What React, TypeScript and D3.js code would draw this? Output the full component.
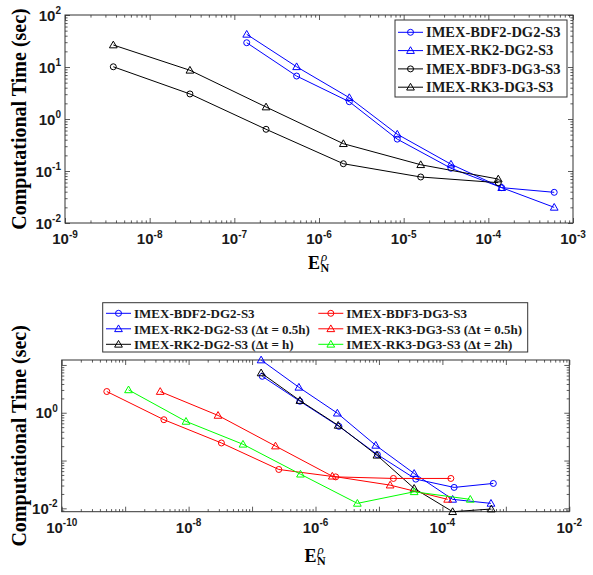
import { useEffect, useRef } from 'react'
import * as d3 from 'd3'

// --- upper figure: error vs. CPU time ---
const topErrDG2 = [1.40e-7, 5.44e-7, 2.28e-6, 8.4e-6, 3.62e-5, 1.44e-4, 6.0e-4]
const topTimeBDF2 = [29.3, 6.7, 2.15, 0.41, 0.113, 0.0478, 0.0389]
const topTimeRK2 = [42.5, 10.1, 2.57, 0.51, 0.135, 0.0478, 0.020]
const topErrDG3 = [3.72e-9, 2.99e-8, 2.37e-7, 1.94e-6, 1.59e-5, 1.31e-4]
const topTimeBDF3 = [10.1, 3.03, 0.634, 0.138, 0.0767, 0.0596]
const topTimeRK3 = [26.5, 8.65, 1.70, 0.335, 0.132, 0.070]

// --- lower figure: time step comparison ---
const botErrBDF2 = [1.45e-7, 5.68e-7, 2.34e-6, 9.46e-6, 3.81e-5, 1.53e-4, 6.35e-4]
const botTimeBDF2 = [5.79, 1.74, 0.519, 0.133, 0.0408, 0.0274, 0.0332]
const botErrRK2Half = [1.39e-7, 5.47e-7, 2.21e-6, 8.9e-6, 3.59e-5, 1.45e-4, 5.83e-4]
const botTimeRK2Half = [12.7, 3.41, 0.98, 0.208, 0.0536, 0.0154, 0.0127]
const botErrRK2Full = [1.39e-7, 5.68e-7, 2.28e-6, 9.3e-6, 3.59e-5, 1.45e-4, 5.9e-4]
const botTimeRK2Full = [6.81, 1.80, 0.544, 0.129, 0.0261, 0.0085, 0.00967]
const botErrBDF3 = [5.14e-10, 4.08e-9, 3.29e-8, 2.64e-7, 2.08e-6, 1.69e-5, 1.36e-4]
const botTimeBDF3 = [2.78, 0.715, 0.233, 0.065, 0.0455, 0.0422, 0.0422]
const botErrRK3Half = [3.57e-9, 2.91e-8, 2.34e-7, 1.84e-6, 1.50e-5, 1.21e-4]
const botTimeRK3Half = [2.78, 0.879, 0.201, 0.047, 0.0306, 0.0154]
const botErrRK3Double = [1.13e-9, 9.1e-9, 7.2e-8, 5.8e-7, 4.57e-6, 3.59e-5, 2.75e-4]
const botTimeRK3Double = [3.01, 0.659, 0.219, 0.0518, 0.0127, 0.0222, 0.0154]

// tick labels (exponents of 10)
const topXLabelExps = [-9, -8, -7, -6, -5, -4, -3]
const topYLabelExps = [-2, -1, 0, 1, 2]
const botXLabelExps = [-10, -8, -6, -4, -2]
const botYLabelExps = [-2, 0]

type Marker = 'circle' | 'triangle'
interface Series {
  name: string
  err: number[]
  time: number[]
  color: string
  marker: Marker
}

const BLUE = '#0000ff'
const BLACK = '#000000'
const RED = '#ff0000'
const GREEN = '#00ff00'

const topSeries: Series[] = [
  { name: 'IMEX-BDF2-DG2-S3', err: topErrDG2, time: topTimeBDF2, color: BLUE, marker: 'circle' },
  { name: 'IMEX-RK2-DG2-S3', err: topErrDG2, time: topTimeRK2, color: BLUE, marker: 'triangle' },
  { name: 'IMEX-BDF3-DG3-S3', err: topErrDG3, time: topTimeBDF3, color: BLACK, marker: 'circle' },
  { name: 'IMEX-RK3-DG3-S3', err: topErrDG3, time: topTimeRK3, color: BLACK, marker: 'triangle' },
]

const bottomSeries: Series[] = [
  { name: 'IMEX-BDF2-DG2-S3', err: botErrBDF2, time: botTimeBDF2, color: BLUE, marker: 'circle' },
  { name: 'IMEX-RK2-DG2-S3 (Δt = 0.5h)', err: botErrRK2Half, time: botTimeRK2Half, color: BLUE, marker: 'triangle' },
  { name: 'IMEX-RK2-DG2-S3 (Δt = h)', err: botErrRK2Full, time: botTimeRK2Full, color: BLACK, marker: 'triangle' },
  { name: 'IMEX-BDF3-DG3-S3', err: botErrBDF3, time: botTimeBDF3, color: RED, marker: 'circle' },
  { name: 'IMEX-RK3-DG3-S3 (Δt = 0.5h)', err: botErrRK3Half, time: botTimeRK3Half, color: RED, marker: 'triangle' },
  { name: 'IMEX-RK3-DG3-S3 (Δt = 2h)', err: botErrRK3Double, time: botTimeRK3Double, color: GREEN, marker: 'triangle' },
]

const SANS = 'Liberation Sans, Arial, Helvetica, sans-serif'
const SERIF = 'Liberation Serif, Times New Roman, serif'
const AXIS_COLOR = '#333333'

interface Legend {
  x: number
  y: number
  width: number
  height: number
  fontSize: number
  rowGap: number
  firstRow: number
  columns: number[] // x offsets of each column
  order: number[][] // series index per column
}

interface Panel {
  series: Series[]
  xDomain: [number, number]
  yDomain: [number, number]
  xLabelExps: number[]
  yLabelExps: number[]
  left: number
  right: number
  top: number
  bottom: number
  xTitleY: number
  legend: Legend
}

const panels: Panel[] = [
  {
    series: topSeries,
    xDomain: [1e-9, 1e-3],
    yDomain: [1e-2, 1e2],
    xLabelExps: topXLabelExps,
    yLabelExps: topYLabelExps,
    left: 65, right: 573, top: 15, bottom: 223,
    xTitleY: 269,
    legend: {
      x: 395, y: 20, width: 172, height: 77, fontSize: 14.5, rowGap: 18.3, firstRow: 12.3,
      columns: [3], order: [[0, 1, 2, 3]],
    },
  },
  {
    series: bottomSeries,
    xDomain: [1e-10, 1e-2],
    yDomain: [0.0085, 12.7],
    xLabelExps: botXLabelExps,
    yLabelExps: botYLabelExps,
    left: 61.7, right: 569.3, top: 360, bottom: 511.7,
    xTitleY: 561.7,
    legend: {
      x: 102.7, y: 302.7, width: 425, height: 49.3, fontSize: 13, rowGap: 15.5, firstRow: 10.6,
      columns: [3.3, 215.6], order: [[0, 1, 2], [3, 4, 5]],
    },
  },
]

function drawMarker(g: d3.Selection<SVGGElement, unknown, null, undefined>, m: Marker, x: number, y: number, color: string) {
  if (m === 'circle') {
    g.append('circle').attr('cx', x).attr('cy', y).attr('r', 3)
      .attr('fill', 'none').attr('stroke', color).attr('stroke-width', 1)
  } else {
    g.append('path').attr('d', d3.symbol(d3.symbolTriangle, 26)())
      .attr('transform', `translate(${x},${y + 0.6})`)
      .attr('fill', 'none').attr('stroke', color).attr('stroke-width', 1)
  }
}

function powLabel(g: d3.Selection<SVGGElement, unknown, null, undefined>, x: number, y: number, exp: number, anchor: string) {
  const t = g.append('text').attr('x', x).attr('y', y).attr('text-anchor', anchor)
    .attr('font-family', SANS).attr('font-weight', 'bold').attr('font-size', 15).attr('fill', '#1a1a1a')
  t.append('tspan').text('10')
  t.append('tspan').attr('dy', -6.5).attr('font-size', 10).text(String(exp))
}

function drawPanel(root: d3.Selection<SVGSVGElement, unknown, null, undefined>, p: Panel) {
  const g = root.append('g')
  const x = d3.scaleLog().domain(p.xDomain).range([p.left, p.right])
  const y = d3.scaleLog().domain(p.yDomain).range([p.bottom, p.top])

  const isMajor = (v: number) => Math.abs(Math.log10(v) - Math.round(Math.log10(v))) < 1e-9
  const xTicks = x.ticks()
  const yTicks = y.ticks()
  const xMajor = xTicks.filter(isMajor)
  const xMinor = xTicks.filter(v => !isMajor(v))
  const yMajor = yTicks.filter(isMajor)
  const yMinor = yTicks.filter(v => !isMajor(v))

  // inward ticks on all four sides
  const tickAxis = (axis: d3.Axis<d3.NumberValue>, tx: number, ty: number) => {
    const a = g.append('g').attr('transform', `translate(${tx},${ty})`).call(axis)
    a.select('.domain').remove()
    a.selectAll('text').remove()
    a.selectAll('line').attr('stroke', AXIS_COLOR).attr('stroke-width', 0.8)
  }
  const major = 5
  const minor = 2.6
  tickAxis(d3.axisBottom(x).tickValues(xMajor).tickSizeInner(-major).tickSizeOuter(0), 0, p.bottom)
  tickAxis(d3.axisBottom(x).tickValues(xMinor).tickSizeInner(-minor).tickSizeOuter(0), 0, p.bottom)
  tickAxis(d3.axisTop(x).tickValues(xMajor).tickSizeInner(-major).tickSizeOuter(0), 0, p.top)
  tickAxis(d3.axisTop(x).tickValues(xMinor).tickSizeInner(-minor).tickSizeOuter(0), 0, p.top)
  tickAxis(d3.axisLeft(y).tickValues(yMajor).tickSizeInner(-major).tickSizeOuter(0), p.left, 0)
  tickAxis(d3.axisLeft(y).tickValues(yMinor).tickSizeInner(-minor).tickSizeOuter(0), p.left, 0)
  tickAxis(d3.axisRight(y).tickValues(yMajor).tickSizeInner(-major).tickSizeOuter(0), p.right, 0)
  tickAxis(d3.axisRight(y).tickValues(yMinor).tickSizeInner(-minor).tickSizeOuter(0), p.right, 0)

  g.append('rect')
    .attr('x', p.left).attr('y', p.top)
    .attr('width', p.right - p.left).attr('height', p.bottom - p.top)
    .attr('fill', 'none').attr('stroke', AXIS_COLOR).attr('stroke-width', 1)

  // tick labels
  p.xLabelExps.forEach(e => powLabel(g, x(Math.pow(10, e)), p.bottom + 21, e, 'middle'))
  p.yLabelExps.forEach(e => powLabel(g, p.left - 4, y(Math.pow(10, e)) + 5.5, e, 'end'))

  // series
  const line = d3.line<[number, number]>().x(d => x(d[0])).y(d => y(d[1]))
  p.series.forEach(s => {
    const pts = s.err.map((e, i) => [e, s.time[i]] as [number, number])
    g.append('path').attr('d', line(pts) ?? '')
      .attr('fill', 'none').attr('stroke', s.color).attr('stroke-width', 1)
    pts.forEach(d => drawMarker(g, s.marker, x(d[0]), y(d[1]), s.color))
  })

  // axis titles
  const cy = (p.top + p.bottom) / 2
  g.append('text')
    .attr('transform', `translate(26,${cy}) rotate(-90)`)
    .attr('text-anchor', 'middle')
    .attr('font-family', SERIF).attr('font-weight', 'bold').attr('font-size', 20)
    .text('Computational Time (sec)')

  // E with subscript N and superscript rho stacked above it
  const cx = (p.left + p.right) / 2
  const title = g.append('text').attr('x', cx - 11).attr('y', p.xTitleY)
    .attr('font-family', SERIF).attr('font-weight', 'bold').attr('font-size', 18)
  title.append('tspan').text('E')
  title.append('tspan').attr('dx', 0.5).attr('dy', 3).attr('font-size', 12).text('N')
  title.append('tspan').attr('dx', -8.2).attr('dy', -11).attr('font-size', 13)
    .attr('font-weight', 'normal').attr('font-style', 'italic').text('ρ')

  // legend
  const L = p.legend
  const lg = g.append('g')
  lg.append('rect').attr('x', L.x).attr('y', L.y).attr('width', L.width).attr('height', L.height)
    .attr('fill', '#ffffff').attr('stroke', AXIS_COLOR).attr('stroke-width', 1)
  L.order.forEach((col, ci) => {
    col.forEach((si, ri) => {
      const s = p.series[si]
      const lx = L.x + L.columns[ci]
      const ly = L.y + L.firstRow + ri * L.rowGap
      lg.append('line').attr('x1', lx).attr('x2', lx + 25).attr('y1', ly).attr('y2', ly)
        .attr('stroke', s.color).attr('stroke-width', 1)
      drawMarker(lg, s.marker, lx + 12.5, ly, s.color)
      lg.append('text').attr('x', lx + 28).attr('y', ly + 4.8)
        .attr('font-family', SERIF).attr('font-weight', 'bold').attr('font-size', L.fontSize)
        .attr('fill', '#1a1a1a')
        .text(s.name)
    })
  })
}

export default function App() {
  const svgRef = useRef<SVGSVGElement>(null)

  useEffect(() => {
    if (!svgRef.current) return
    const svg = d3.select(svgRef.current)
    svg.selectAll('*').remove()
    panels.forEach(p => drawPanel(svg, p))
  }, [])

  return (
    <svg
      ref={svgRef}
      width={593}
      height={575}
      style={{ position: 'absolute', left: 0, top: 0, background: '#ffffff' }}
    />
  )
}
